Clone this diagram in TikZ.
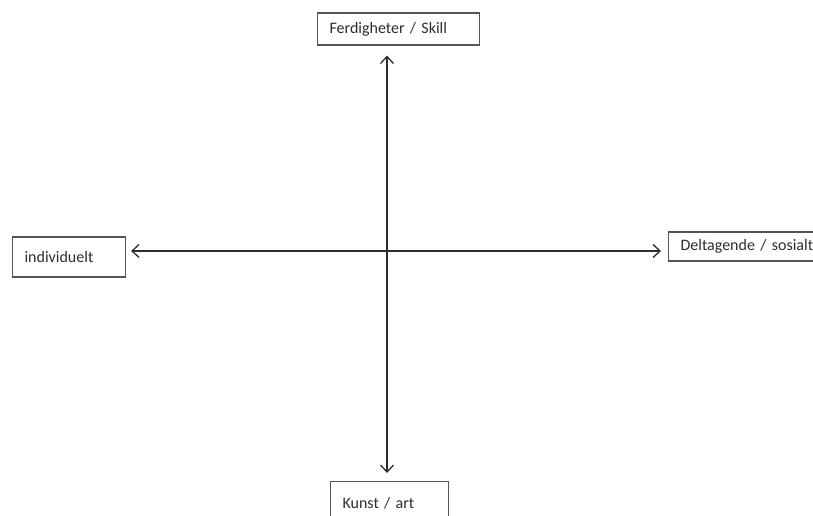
\documentclass[tikz,border=0pt]{standalone}
\usepackage{fontspec}
\setmainfont{Carlito}
\usetikzlibrary{arrows.meta}
\definecolor{ink}{HTML}{2E2E2E}
\definecolor{frame}{HTML}{555555}
\tikzset{
  labelbox/.style={draw=frame, line width=1.1pt, rectangle, inner xsep=12pt, inner ysep=0pt,
    font=\fontsize{16}{18}\selectfont, text=ink, anchor=west, align=left},
  axis/.style={draw=ink, line width=1.4pt,
    {Straight Barb[length=7pt,width=13pt,line width=1.3pt]}-{Straight Barb[length=7pt,width=13pt,line width=1.3pt]}}
}
\begin{document}
\begin{tikzpicture}[x=1pt,y=-1pt]
  \useasboundingbox (0,0) rectangle (813,515);
  \fill[white] (0,0) rectangle (813,515);
  % four pole labels
  \node[labelbox, minimum width=162pt, minimum height=32pt, text width=138pt] (top) at (317,29) {Ferdigheter / Skill};
  \node[labelbox, minimum width=113pt, minimum height=40pt, text width=89pt] (left) at (12,257) {individuelt};
  \node[labelbox, minimum width=160pt, minimum height=29pt, text width=136pt] (right) at (668,246.5) {Deltagende / sosialt};
  \node[labelbox, minimum width=118pt, minimum height=44pt, text width=94pt, anchor=north west] (bottom) at (330,481) {Kunst / art};
  % centre of the cross
  \coordinate (c) at (387,251);
  \draw[axis, shorten <=10pt, shorten >=8pt] (c |- top.south) -- (c |- bottom.north);
  \draw[axis, shorten <=5pt, shorten >=7pt] (c -| left.east) -- (c -| right.west);
\end{tikzpicture}
\end{document}
